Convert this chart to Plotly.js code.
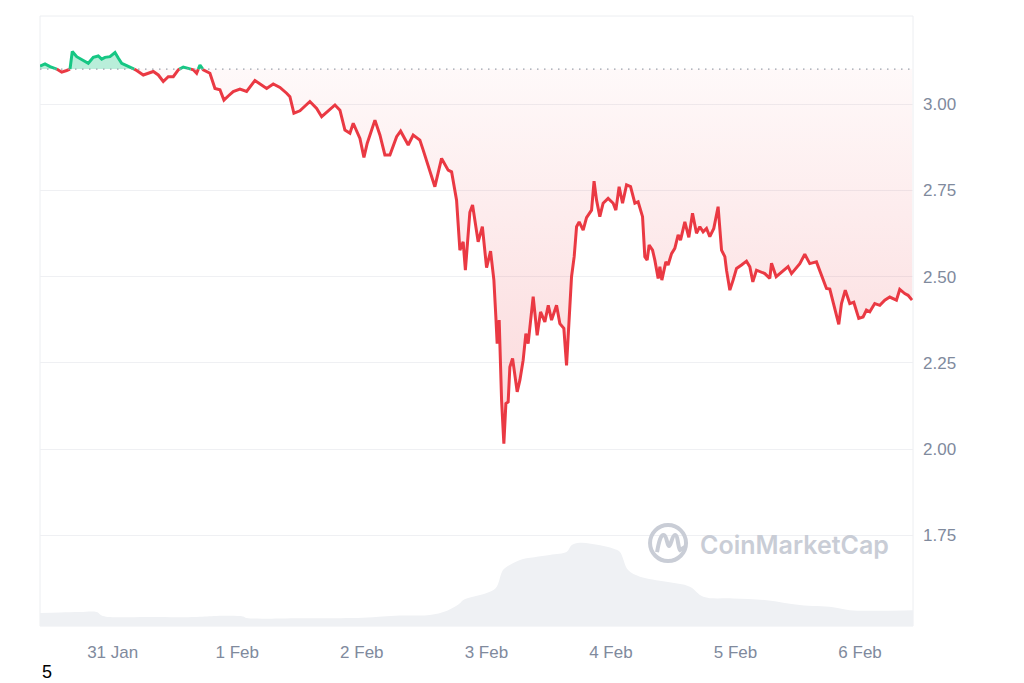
<!DOCTYPE html>
<html>
<head>
<meta charset="utf-8">
<script src="https://cdn.plot.ly/plotly-3.0.1.min.js"></script>
<style>html,body{margin:0;padding:0;background:#fff;}#chart{width:1024px;height:683px;}</style>
</head>
<body>
<div id="chart"></div>
<script>
// ---- data ----
const startTime = Date.UTC(2025, 0, 30, 10, 0); // 30 Jan 10:00
const endHour = 168.2;
const baselinePrice = 3.102;

const priceHours = [0,0.96,1.93,3.22,4.18,5.14,5.78,6.22,7.07,8.34,9.30,10.27,11.23,11.88,12.52,13.48,14.45,15.08,15.74,16.70,17.66,18.63,19.90,20.86,21.83,22.79,23.75,24.71,25.68,26.64,27.60,28.57,29.53,30.18,30.82,31.45,32.74,33.71,34.67,35.44,36.27,37.23,38.52,39.81,41.41,42.38,43.67,44.94,46.23,47.52,48.15,48.92,50.08,52.0,53.3,54.27,55.54,56.83,57.79,58.75,59.71,60.35,61.64,62.41,63.05,64.53,65.49,66.45,67.42,68.71,69.48,70.94,71.90,73.19,73.83,74.79,76.08,77.37,78.64,79.30,80.26,80.90,81.53,81.96,82.82,83.34,84.42,85.23,86.04,86.81,87.45,87.83,88.08,88.47,88.93,89.37,89.76,90.20,90.53,91.05,91.49,91.94,92.46,93.09,93.61,94.05,95.02,95.79,96.44,97.27,97.93,98.56,99.52,100.16,100.93,101.45,101.90,102.41,102.92,103.38,103.88,104.65,105.30,106.27,106.75,107.23,107.86,108.50,109.46,110.43,110.95,111.58,112.24,113.01,113.78,114.61,115.24,116.09,116.53,116.98,117.36,118.02,118.46,119.10,119.43,119.81,120.58,121.02,121.68,122.31,122.95,123.41,124.24,125.01,125.72,126.49,127.13,127.76,128.42,129.05,129.82,130.65,131.31,131.95,132.27,132.91,133.54,134.20,135.16,136.12,136.76,137.34,138.05,139.01,139.65,140.61,140.94,141.84,142.86,144.13,144.79,146.39,147.35,148.31,149.60,150.57,151.53,152.17,153.13,153.90,154.42,155.15,156.02,156.79,157.75,158.58,159.23,159.87,160.83,161.80,162.76,163.72,165.01,165.65,166.61,167.25,168.02];
const priceValues = [3.111,3.117,3.109,3.102,3.093,3.098,3.102,3.153,3.138,3.127,3.119,3.136,3.140,3.131,3.136,3.138,3.150,3.134,3.119,3.112,3.106,3.098,3.085,3.090,3.095,3.085,3.066,3.080,3.080,3.100,3.108,3.104,3.100,3.090,3.114,3.100,3.090,3.046,3.042,3.012,3.024,3.037,3.044,3.037,3.069,3.059,3.046,3.059,3.049,3.032,3.022,2.974,2.981,3.008,2.988,2.964,2.981,2.998,2.983,2.925,2.916,2.945,2.901,2.846,2.887,2.954,2.911,2.853,2.853,2.906,2.922,2.882,2.911,2.896,2.867,2.819,2.761,2.843,2.809,2.804,2.722,2.577,2.601,2.519,2.687,2.708,2.601,2.645,2.526,2.574,2.490,2.383,2.306,2.374,2.142,2.016,2.132,2.137,2.238,2.263,2.219,2.166,2.200,2.258,2.335,2.306,2.442,2.330,2.398,2.369,2.417,2.374,2.417,2.364,2.350,2.243,2.364,2.500,2.558,2.645,2.659,2.635,2.671,2.693,2.777,2.722,2.674,2.713,2.727,2.713,2.693,2.761,2.713,2.766,2.761,2.713,2.717,2.674,2.558,2.548,2.592,2.577,2.548,2.495,2.529,2.490,2.543,2.534,2.567,2.582,2.621,2.606,2.659,2.614,2.684,2.626,2.645,2.630,2.640,2.616,2.640,2.703,2.577,2.558,2.519,2.461,2.490,2.524,2.534,2.545,2.529,2.485,2.519,2.513,2.509,2.495,2.539,2.500,2.514,2.529,2.509,2.538,2.565,2.538,2.543,2.507,2.466,2.464,2.408,2.362,2.422,2.461,2.422,2.426,2.379,2.383,2.403,2.398,2.422,2.417,2.432,2.441,2.432,2.463,2.451,2.446,2.432];

const volumeHours = [0,3.85,7.7,10.9,12.1,21.2,30.2,34.0,39.1,39.8,50.1,62.2,69.3,75.1,78.3,80.9,81.5,86.7,88.0,89.2,90.5,92.5,98.2,101.5,102.4,104.0,107.9,110.4,111.7,113.3,115.6,120.7,125.2,127.8,133.5,140.0,146.4,152.8,156.0,162.4,168.2];
const volumeValues = [5.3,5.5,5.7,5.7,4.1,3.7,3.7,4.1,3.9,3.3,3.2,3.4,4.3,4.5,6.1,9.3,10.6,14.0,16.1,22.9,25.0,27.1,29.1,30.4,33.1,34.1,33.1,31.8,30.4,22.9,20.2,18.1,16.1,12.0,11.3,10.6,8.6,7.7,6.5,6.3,6.5];

const yTickValues = [1.75, 2.00, 2.25, 2.50, 2.75, 3.00];
const yTickLabels = ['1.75', '2.00', '2.25', '2.50', '2.75', '3.00'];

// ---- helpers ----
function hourToDate(h) {
  const d = new Date(startTime + h * 3600000);
  return d.toISOString().slice(0, 19).replace('T', ' ');
}

// split the series at the baseline (add the exact crossing points)
const dx = [], dy = [];
for (let i = 0; i < priceHours.length; i++) {
  dx.push(priceHours[i]); dy.push(priceValues[i]);
  if (i < priceHours.length - 1) {
    const a = priceValues[i] - baselinePrice, b = priceValues[i + 1] - baselinePrice;
    if (a * b < 0) {
      const t = a / (a - b);
      dx.push(priceHours[i] + t * (priceHours[i + 1] - priceHours[i]));
      dy.push(baselinePrice);
    }
  }
}
const X = dx.map(hourToDate);
const base = dy.map(() => baselinePrice);
const below = dy.map(v => Math.min(v, baselinePrice));
const above = dy.map(v => Math.max(v, baselinePrice));
const redLine = dy.map(v => (v <= baselinePrice ? v : null));
const greenLine = dy.map(v => (v >= baselinePrice ? v : null));

const RED = '#ea3943', GREEN = '#16c784';

const traces = [
  {x: X, y: base, mode: 'lines', line: {width: 0}, hoverinfo: 'skip', showlegend: false},
  {x: X, y: below, mode: 'lines', line: {width: 0}, fill: 'tonexty',
   fillgradient: {type: 'vertical', colorscale: [[0, 'rgba(234,57,67,0.20)'], [1, 'rgba(234,57,67,0.03)']]},
   hoverinfo: 'skip', showlegend: false},
  {x: X, y: base, mode: 'lines', line: {width: 0}, hoverinfo: 'skip', showlegend: false},
  {x: X, y: above, mode: 'lines', line: {width: 0}, fill: 'tonexty', fillcolor: 'rgba(22,199,132,0.30)',
   hoverinfo: 'skip', showlegend: false},
  {x: X, y: redLine, mode: 'lines', line: {color: RED, width: 3}, connectgaps: false, showlegend: false},
  {x: X, y: greenLine, mode: 'lines', line: {color: GREEN, width: 3}, connectgaps: false, showlegend: false},
  {x: volumeHours.map(hourToDate), y: volumeValues, yaxis: 'y2', mode: 'lines', line: {width: 0, shape: 'spline'},
   fill: 'tozeroy', fillcolor: '#eff1f4', hoverinfo: 'skip', showlegend: false}
];

const gray = 'rgb(128,138,157)';
const wm = '#c9cdd6';
const layout = {
  width: 1024, height: 683,
  margin: {l: 40, r: 111, t: 16, b: 57},
  paper_bgcolor: '#ffffff', plot_bgcolor: '#ffffff',
  font: {family: 'Liberation Sans, Arial, sans-serif', color: gray, size: 17},
  showlegend: false,
  xaxis: {
    type: 'date',
    range: [hourToDate(0), hourToDate(endHour)],
    tick0: '2025-01-31', dtick: 86400000, tickformat: '%-d %b',
    showgrid: false, zeroline: false, showline: false, ticks: '',
    tickfont: {size: 17, color: gray}, ticklabelstandoff: 14
  },
  yaxis: {
    side: 'right', range: [1.487, 3.256],
    tickvals: yTickValues, ticktext: yTickLabels,
    showgrid: true, gridcolor: '#eff0f3', gridwidth: 1,
    zeroline: false, showline: false, ticks: '',
    tickfont: {size: 17, color: gray}, ticklabelstandoff: 9
  },
  yaxis2: {overlaying: 'y', range: [0, 250], visible: false, showgrid: false},
  shapes: [
    {type: 'rect', xref: 'paper', yref: 'paper', x0: 0, x1: 1, y0: 0, y1: 1,
     line: {color: '#eceef1', width: 1}, layer: 'below'},
    {type: 'line', xref: 'paper', yref: 'y', x0: 0, x1: 1, y0: baselinePrice, y1: baselinePrice,
     line: {color: '#9aa1ac', width: 1.4, dash: '1.5px,5.5px'}, layer: 'above'},
    {type: 'circle', xref: 'paper', yref: 'paper', xsizemode: 'pixel', ysizemode: 'pixel',
     xanchor: 0.7194, yanchor: 0.136, x0: -18, x1: 18, y0: -18, y1: 18,
     line: {color: wm, width: 4}},
    {type: 'path', xref: 'paper', yref: 'paper', xsizemode: 'pixel', ysizemode: 'pixel',
     xanchor: 0.7194, yanchor: 0.136,
     path: 'M-11,-9 C-9,2 -7,9 -4,8 C-1,7 -1,-3 1,-3 C3,-3 4,8 7,8 C10,8 10,-5 12,-7 L17,-4',
     line: {color: wm, width: 4}}
  ],
  annotations: [
    {text: 'CoinMarketCap', xref: 'paper', yref: 'paper', x: 0.8643, y: 0.1328,
     xanchor: 'center', yanchor: 'middle', showarrow: false,
     font: {family: 'Inter, Open Sans, sans-serif', size: 25, color: wm, weight: 600}},
    {text: '5', xref: 'paper', yref: 'paper', x: (46.7 - 40) / 873, y: (626 - 671.7) / 610,
     xanchor: 'center', yanchor: 'middle', showarrow: false,
     font: {family: 'Liberation Sans, Arial, sans-serif', size: 18, color: '#000000'}}
  ]
};

Plotly.newPlot('chart', traces, layout, {staticPlot: true, displayModeBar: false});
</script>
</body>
</html>
